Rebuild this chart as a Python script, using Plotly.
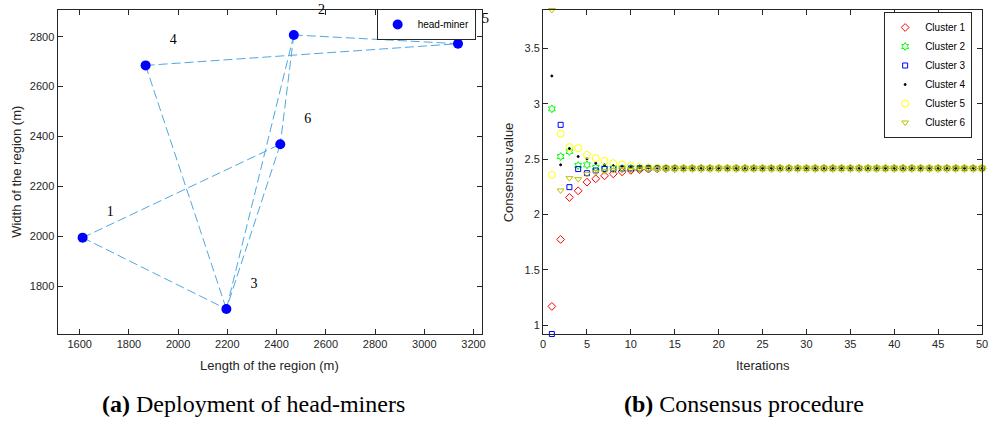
import plotly.graph_objects as go

# ---------------- data: (a) deployment ----------------
miner_ids = ["1", "2", "3", "4", "5", "6"]
miner_x = [1612, 2470, 2196, 1868, 3137, 2415]
miner_y = [1995, 2807, 1709, 2685, 2772, 2369]
links = [(1, 6), (1, 3), (4, 3), (4, 5), (2, 5), (2, 3), (2, 6), (6, 3)]
label_dx, label_dy = 112, 99

# ---------------- data: (b) consensus ----------------
iterations = list(range(1, 51))
cluster1 = [1.171, 1.775, 2.154, 2.214, 2.292, 2.322, 2.349, 2.367, 2.385, 2.398,
            2.405, 2.410, 2.413, 2.415, 2.416, 2.417, 2.417, 2.417, 2.417, 2.417,
            2.417, 2.417, 2.417, 2.417, 2.417, 2.417, 2.417, 2.417, 2.417, 2.417,
            2.417, 2.417, 2.417, 2.417, 2.417, 2.417, 2.417, 2.417, 2.417, 2.417,
            2.417, 2.417, 2.417, 2.417, 2.417, 2.417, 2.417, 2.417, 2.417, 2.417]
cluster2 = [2.953, 2.523, 2.568, 2.442, 2.448, 2.424, 2.418, 2.418, 2.415, 2.418,
            2.418, 2.418, 2.418, 2.417, 2.417, 2.417, 2.417, 2.417, 2.417, 2.417,
            2.417, 2.417, 2.417, 2.417, 2.417, 2.417, 2.417, 2.417, 2.417, 2.417,
            2.417, 2.417, 2.417, 2.417, 2.417, 2.417, 2.417, 2.417, 2.417, 2.417,
            2.417, 2.417, 2.417, 2.417, 2.417, 2.417, 2.417, 2.417, 2.417, 2.417]
cluster3 = [0.922, 2.809, 2.247, 2.410, 2.373, 2.397, 2.410, 2.410, 2.415, 2.415,
            2.417, 2.417, 2.417, 2.417, 2.417, 2.417, 2.417, 2.417, 2.417, 2.417,
            2.417, 2.417, 2.417, 2.417, 2.417, 2.417, 2.417, 2.417, 2.417, 2.417,
            2.417, 2.417, 2.417, 2.417, 2.417, 2.417, 2.417, 2.417, 2.417, 2.417,
            2.417, 2.417, 2.417, 2.417, 2.417, 2.417, 2.417, 2.417, 2.417, 2.417]
cluster4 = [3.250, 2.448, 2.595, 2.523, 2.502, 2.463, 2.448, 2.440, 2.430, 2.425,
            2.422, 2.420, 2.419, 2.418, 2.418, 2.417, 2.417, 2.417, 2.417, 2.417,
            2.417, 2.417, 2.417, 2.417, 2.417, 2.417, 2.417, 2.417, 2.417, 2.417,
            2.417, 2.417, 2.417, 2.417, 2.417, 2.417, 2.417, 2.417, 2.417, 2.417,
            2.417, 2.417, 2.417, 2.417, 2.417, 2.417, 2.417, 2.417, 2.417, 2.417]
cluster5 = [2.358, 2.730, 2.608, 2.599, 2.538, 2.509, 2.484, 2.463, 2.450, 2.440,
            2.430, 2.425, 2.421, 2.419, 2.418, 2.417, 2.417, 2.417, 2.417, 2.417,
            2.417, 2.417, 2.417, 2.417, 2.417, 2.417, 2.417, 2.417, 2.417, 2.417,
            2.417, 2.417, 2.417, 2.417, 2.417, 2.417, 2.417, 2.417, 2.417, 2.417,
            2.417, 2.417, 2.417, 2.417, 2.417, 2.417, 2.417, 2.417, 2.417, 2.417]
cluster6 = [3.845, 2.217, 2.328, 2.319, 2.367, 2.382, 2.390, 2.400, 2.405, 2.404,
            2.408, 2.410, 2.412, 2.414, 2.416, 2.417, 2.417, 2.417, 2.417, 2.417,
            2.417, 2.417, 2.417, 2.417, 2.417, 2.417, 2.417, 2.417, 2.417, 2.417,
            2.417, 2.417, 2.417, 2.417, 2.417, 2.417, 2.417, 2.417, 2.417, 2.417,
            2.417, 2.417, 2.417, 2.417, 2.417, 2.417, 2.417, 2.417, 2.417, 2.417]
cluster_names = ["Cluster 1", "Cluster 2", "Cluster 3", "Cluster 4", "Cluster 5", "Cluster 6"]
cluster_values = [cluster1, cluster2, cluster3, cluster4, cluster5, cluster6]

# ---------------- styles ----------------
W, H = 994, 423
AX = "#262626"
SANS = "Liberation Sans, Arial, sans-serif"
SERIF = "Liberation Serif, Times New Roman, serif"
cluster_styles = [
    dict(symbol="diamond-open", color="#ff0000", size=6),
    dict(symbol="hexagram-open", color="#00ff00", size=6),
    dict(symbol="square-open", color="#0000ff", size=5),
    dict(symbol="circle", color="#000000", size=2),
    dict(symbol="circle-open", color="#ffff00", size=7),
    dict(symbol="triangle-down-open", color="#bfbf00", size=6),
]

# left axes geometry (pixels) and ranges
L_X0, L_X1, L_XEXT = 55, 483, 500
X_RANGE = [1510, 3233]
Y_RANGE = [1609, 2907]
# invisible companion axis with the same scale, extended to the right so outside labels stay visible
X_RANGE_EXT = [X_RANGE[0], X_RANGE[0] + (X_RANGE[1] - X_RANGE[0]) * (L_XEXT - L_X0) / (L_X1 - L_X0)]

fig = go.Figure()

# links
for a, b in links:
    fig.add_trace(go.Scatter(
        x=[miner_x[a - 1], miner_x[b - 1]], y=[miner_y[a - 1], miner_y[b - 1]],
        mode="lines", line=dict(color="#4da8e0", width=1, dash="9px,4px"),
        showlegend=False, hoverinfo="skip", xaxis="x", yaxis="y"))

fig.add_trace(go.Scatter(
    x=miner_x, y=miner_y, mode="markers", name="head-miner",
    marker=dict(color="#0000ff", size=10, line=dict(width=0)),
    xaxis="x", yaxis="y", legend="legend", cliponaxis=False))

# node labels
fig.add_trace(go.Scatter(
    x=[v + label_dx for v in miner_x], y=[v + label_dy for v in miner_y],
    mode="text", text=miner_ids, textposition="middle center",
    textfont=dict(family=SERIF, size=14, color="#000000"),
    showlegend=False, hoverinfo="skip", xaxis="x3", yaxis="y", cliponaxis=False))

for name, vals, st in zip(cluster_names, cluster_values, cluster_styles):
    fig.add_trace(go.Scatter(
        x=iterations, y=vals, mode="markers", name=name,
        marker=dict(symbol=st["symbol"], color=st["color"], size=st["size"],
                    line=dict(color=st["color"], width=1)),
        xaxis="x2", yaxis="y2", legend="legend2", cliponaxis=False))

def title_ann(x, y, text, angle=0):
    return dict(x=x / W, y=1 - y / H, xref="paper", yref="paper", text=text,
                showarrow=False, textangle=angle, xanchor="center", yanchor="middle",
                font=dict(family=SANS, size=13, color=AX))

annotations = [
    title_ann(269, 365, "Length of the region (m)"),
    title_ann(14, 172, "Width of the region (m)", -90),
    title_ann(767, 365, "Iterations"),
    title_ann(511, 172, "Consensus value", -90),
    dict(x=253 / W, y=1 - 404 / H, xref="paper", yref="paper", showarrow=False,
         text="<b>(a)</b> Deployment of head-miners", xanchor="center", yanchor="middle",
         font=dict(family=SERIF, size=24, color="#000000")),
    dict(x=748 / W, y=1 - 404 / H, xref="paper", yref="paper", showarrow=False,
         text="<b>(b)</b> Consensus procedure", xanchor="center", yanchor="middle",
         font=dict(family=SERIF, size=24, color="#000000")),
]

axis_common = dict(showline=True, linecolor=AX, linewidth=1, mirror="ticks",
                   ticks="inside", ticklen=5, tickcolor=AX, tickwidth=1,
                   showgrid=False, zeroline=False,
                   tickfont=dict(family=SANS, size=11, color=AX))

fig.update_layout(
    width=W, height=H, margin=dict(l=0, r=0, t=0, b=0),
    plot_bgcolor="rgba(0,0,0,0)", paper_bgcolor="white",
    xaxis=dict(domain=[L_X0 / W, L_X1 / W], range=X_RANGE,
               tickvals=[1600, 1800, 2000, 2200, 2400, 2600, 2800, 3000, 3200],
               anchor="y", **axis_common),
    xaxis3=dict(domain=[L_X0 / W, L_XEXT / W], range=X_RANGE_EXT, anchor="y",
                visible=False, showgrid=False, zeroline=False),
    yaxis=dict(domain=[1 - 334 / H, 1 - 10 / H], range=Y_RANGE,
               tickvals=[1800, 2000, 2200, 2400, 2600, 2800], anchor="x", **axis_common),
    xaxis2=dict(domain=[545 / W, 988 / W], range=[0, 50],
                tickvals=[0, 5, 10, 15, 20, 25, 30, 35, 40, 45, 50], anchor="y2", **axis_common),
    yaxis2=dict(domain=[1 - 334 / H, 1 - 10 / H], range=[0.922, 3.845],
                tickvals=[1, 1.5, 2, 2.5, 3, 3.5], ticktext=["1", "1.5", "2", "2.5", "3", "3.5"],
                anchor="x2", **axis_common),
    legend=dict(x=477 / W, y=1 - 9 / H, xanchor="right", yanchor="top",
                bgcolor="white", bordercolor=AX, borderwidth=1,
                font=dict(family=SANS, size=10, color="#000000"),
                itemwidth=30, tracegroupgap=0),
    legend2=dict(x=978 / W, y=1 - 12 / H, xanchor="right", yanchor="top",
                 bgcolor="white", bordercolor=AX, borderwidth=1,
                 font=dict(family=SANS, size=10, color="#000000"),
                 itemwidth=30, tracegroupgap=0),
    annotations=annotations,
    showlegend=True,
)

fig.write_html("out.html")
